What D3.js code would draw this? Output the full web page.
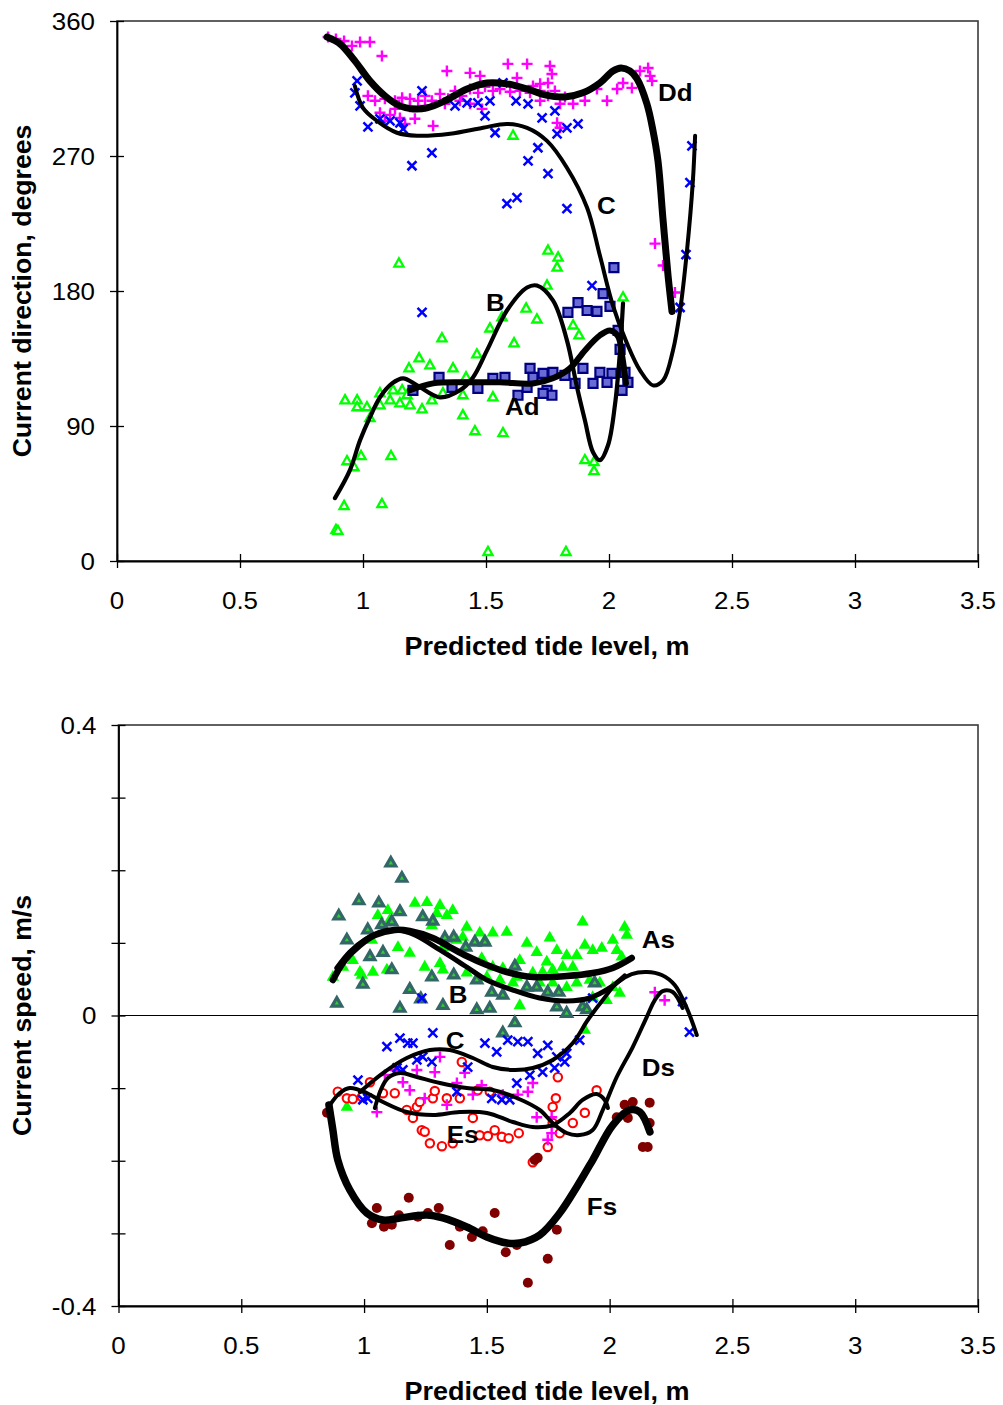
<!DOCTYPE html>
<html><head><meta charset="utf-8">
<script src="https://cdn.jsdelivr.net/npm/d3@7"></script>
<style>
body{margin:0;background:#fff}
svg text{font-family:"Liberation Sans",Arial,Helvetica,sans-serif;fill:#000}
</style>
</head><body>
<svg id="chart" width="1003" height="1405"></svg>
<script>
// ---------- tick labels ----------
const xTicks = [0, 0.5, 1, 1.5, 2, 2.5, 3, 3.5];
const xTickLabels = ["0", "0.5", "1", "1.5", "2", "2.5", "3", "3.5"];
const dirTicks = [0, 90, 180, 270, 360];
const dirTickLabels = ["0", "90", "180", "270", "360"];
const speedTicks = [-0.4, -0.3, -0.2, -0.1, 0, 0.1, 0.2, 0.3, 0.4];
const speedTickLabels = ["-0.4", "", "", "", "0", "", "", "", "0.4"];
const xTitle = "Predicted tide level, m";
const dirTitle = "Current direction, degrees";
const speedTitle = "Current speed, m/s";

// ---------- top chart: current direction (degrees) ----------
const dirDd = [[0.858,349.3],[0.890,348.0],[0.923,346.7],[0.955,343.4],[0.988,346.0],[1.028,346.0],[1.077,336.7],[1.341,326.7],[1.435,325.4],[1.476,323.4],[1.589,331.4],[1.667,331.4],[1.760,330.0],[1.768,324.7],[1.752,318.7],[1.720,318.1],[1.691,316.7],[1.626,322.1],[2.126,326.7],[2.159,328.7],[2.167,323.4],[2.175,320.1],[2.057,318.7],[2.093,315.4],[2.033,314.7],[1.992,306.8],[1.951,314.7],[1.854,304.8],[1.801,304.8],[1.789,292.1],[1.801,288.8],[1.285,290.1],[1.211,294.8],[1.150,295.4],[1.110,297.4],[1.069,298.8],[1.020,310.1],[1.049,306.8],[1.089,308.1],[1.130,306.8],[1.159,308.8],[1.191,308.1],[1.224,306.8],[1.252,310.1],[1.280,306.8],[1.313,311.4],[1.346,308.1],[1.374,313.4],[1.402,310.1],[1.435,314.7],[1.468,312.1],[1.496,316.1],[1.528,313.4],[1.557,314.7],[1.598,312.8],[1.638,313.4],[1.679,312.1],[1.720,313.4],[1.752,310.1],[1.780,313.4],[1.821,309.4],[1.902,306.8],[1.130,301.4],[1.191,302.8],[1.252,303.4],[1.333,304.8],[1.394,306.8],[1.435,304.8],[1.484,301.4],[1.720,306.8],[2.187,211.6],[2.220,197.0],[2.268,179.0],[1.171,291.4],[1.089,293.4]];
const dirC = [[0.976,320.1],[0.967,312.1],[0.988,303.4],[1.020,289.4],[1.069,294.8],[1.110,293.4],[1.150,292.1],[1.163,288.1],[1.240,313.4],[1.280,272.1],[1.199,263.5],[1.374,303.4],[1.423,305.4],[1.467,305.4],[1.516,306.8],[1.569,318.7],[1.496,296.8],[1.537,285.5],[1.622,306.8],[1.671,304.8],[1.728,295.4],[1.780,300.1],[1.829,288.8],[1.789,284.8],[1.874,291.4],[1.711,275.5],[1.671,266.8],[1.752,258.2],[1.585,238.2],[1.626,242.2],[1.829,234.9],[1.240,165.7],[1.931,183.6],[2.337,276.8],[2.329,252.2],[2.313,204.3],[2.289,169.0]];
const dirB = [[1.146,198.3],[1.752,206.9],[1.793,202.3],[1.789,195.6],[1.748,183.6],[1.663,168.3],[1.707,161.0],[1.565,162.4],[1.516,155.0],[1.614,145.1],[1.321,148.4],[1.463,137.7],[1.228,135.1],[1.187,128.4],[1.272,130.4],[1.366,128.4],[1.419,122.4],[1.854,157.0],[1.878,150.4],[2.057,175.7],[0.927,107.1],[0.976,107.1],[0.976,102.5],[1.016,102.5],[1.069,103.8],[1.028,95.2],[1.110,107.1],[1.150,105.1],[1.191,103.8],[1.240,101.1],[1.280,107.1],[1.325,111.8],[1.406,97.1],[1.455,86.5],[1.569,85.2],[1.528,109.1],[0.935,66.5],[0.963,62.5],[0.992,69.9],[1.114,69.9],[0.923,36.6],[1.077,37.9],[0.890,20.6],[0.898,20.0],[1.508,6.0],[1.825,6.0],[1.902,67.2],[1.939,65.9],[1.939,59.9],[1.069,111.8],[1.122,113.8],[1.159,113.8],[1.179,110.5],[1.406,110.5],[1.610,283.5]];
const dirAd = [[2.020,195.6],[1.976,178.3],[2.004,169.7],[1.874,172.3],[1.911,167.0],[1.951,166.4],[1.833,165.7],[2.037,153.7],[1.894,128.4],[1.963,125.8],[2.012,125.1],[1.992,119.1],[1.935,118.4],[1.862,118.4],[1.821,123.8],[1.772,125.8],[1.732,125.1],[1.679,128.4],[1.691,122.4],[1.748,113.8],[1.768,110.5],[1.732,111.8],[1.630,110.5],[1.667,115.8],[1.577,122.4],[1.528,121.8],[1.467,115.1],[1.362,115.8],[1.309,122.4],[1.203,113.8],[2.065,125.8],[2.077,119.1],[2.053,113.8],[2.045,141.1]];

// trend curves
const fitDd = [[0.854,349.3],[0.907,344.7],[0.967,333.4],[1.028,320.1],[1.089,310.1],[1.150,303.4],[1.203,301.4],[1.260,302.1],[1.333,306.8],[1.423,314.7],[1.504,318.7],[1.585,318.1],[1.667,314.7],[1.740,310.8],[1.821,309.4],[1.894,312.1],[1.963,318.7],[2.016,326.7],[2.049,328.7],[2.085,326.7],[2.114,321.4],[2.154,304.8],[2.179,286.8],[2.199,266.8],[2.220,226.9],[2.240,190.3],[2.256,166.4]];
const fitC = [[0.967,316.7],[1.000,302.1],[1.057,293.4],[1.138,285.5],[1.220,283.5],[1.354,284.8],[1.488,288.8],[1.585,291.4],[1.667,288.8],[1.748,280.1],[1.829,262.2],[1.911,235.5],[1.963,203.6],[2.016,170.3],[2.073,145.1],[2.126,127.1],[2.179,117.1],[2.220,120.4],[2.260,140.4],[2.289,167.0],[2.317,206.9],[2.341,253.5],[2.350,283.5]];
const fitB = [[0.886,41.9],[0.947,60.6],[0.988,80.5],[1.028,95.8],[1.069,109.1],[1.118,118.4],[1.163,121.8],[1.220,117.1],[1.313,109.1],[1.394,113.8],[1.447,122.4],[1.504,140.4],[1.585,167.0],[1.667,182.3],[1.707,183.6],[1.772,173.7],[1.829,147.1],[1.870,115.8],[1.902,93.8],[1.935,72.5],[1.963,67.2],[1.996,77.2],[2.024,103.8],[2.045,140.4],[2.057,171.7]];
const fitAd = [[1.191,113.8],[1.285,118.4],[1.423,119.1],[1.557,119.1],[1.691,118.4],[1.772,121.8],[1.841,128.4],[1.902,140.4],[1.963,150.4],[2.004,153.7],[2.037,149.7],[2.053,137.1],[2.069,118.4]];

// ---------- bottom chart: current speed (m/s) ----------
const spdAs = [[1.207,0.155],[1.256,0.156],[1.309,0.152],[1.361,0.145],[1.097,0.145],[1.105,0.132],[1.056,0.138],[1.296,0.141],[1.337,0.138],[1.418,0.122],[1.471,0.114],[1.524,0.114],[1.581,0.115],[1.492,0.104],[1.402,0.108],[1.378,0.104],[1.321,0.094],[1.138,0.094],[1.186,0.086],[1.247,0.067],[1.309,0.072],[1.321,0.063],[1.093,0.063],[1.036,0.060],[0.991,0.056],[0.873,0.053],[0.954,0.076],[1.418,0.059],[1.479,0.079],[1.524,0.067],[1.565,0.065],[1.634,0.076],[1.663,0.100],[1.703,0.087],[1.756,0.107],[1.785,0.090],[1.825,0.083],[1.866,0.083],[1.899,0.097],[1.890,0.129],[1.931,0.090],[1.968,0.093],[2.013,0.104],[2.029,0.090],[2.061,0.122],[2.070,0.111],[2.049,0.081],[1.744,0.074],[1.768,0.063],[1.809,0.067],[1.850,0.067],[1.727,0.060],[1.687,0.059],[1.622,0.053],[1.606,0.045],[1.663,0.039],[1.715,0.045],[1.768,0.045],[1.825,0.039],[1.866,0.045],[1.919,0.049],[1.960,0.045],[2.013,0.039],[2.041,0.031],[1.988,0.021],[1.634,0.014],[1.931,0.025],[1.553,0.049],[1.500,0.053],[0.983,0.060],[0.914,0.067],[0.930,-0.126],[1.899,-0.020],[1.276,0.124],[1.032,0.104]];
const spdB = [[1.109,0.210],[1.154,0.189],[0.979,0.158],[1.060,0.155],[0.897,0.137],[1.113,0.129],[1.146,0.143],[1.239,0.136],[1.280,0.130],[1.072,0.125],[1.015,0.118],[0.930,0.104],[1.077,0.087],[1.024,0.081],[1.113,0.063],[0.995,0.043],[1.186,0.036],[1.231,0.023],[0.889,0.017],[1.146,0.010],[1.321,0.014],[1.329,0.107],[1.365,0.108],[1.414,0.094],[1.451,0.101],[1.492,0.101],[1.276,0.053],[1.365,0.056],[1.459,0.049],[1.520,0.032],[1.565,0.028],[1.459,0.008],[1.512,0.010],[1.614,0.068],[1.663,0.039],[1.703,0.039],[1.748,0.032],[1.793,0.032],[1.785,0.012],[1.825,0.003],[1.890,0.012],[1.939,0.045],[1.614,-0.010],[1.565,-0.024],[1.907,0.008]];
const spdC = [[1.093,-0.043],[1.146,-0.031],[1.178,-0.038],[1.199,-0.038],[1.280,-0.024],[1.215,-0.061],[1.239,-0.057],[1.276,-0.064],[1.158,-0.075],[1.134,-0.072],[0.975,-0.089],[1.492,-0.038],[1.540,-0.050],[1.585,-0.034],[1.626,-0.036],[1.667,-0.036],[1.707,-0.052],[1.748,-0.041],[1.785,-0.057],[1.825,-0.052],[1.878,-0.034],[1.817,-0.064],[1.776,-0.072],[1.727,-0.078],[1.675,-0.082],[1.622,-0.093],[1.422,-0.071],[1.378,-0.105],[1.520,-0.114],[1.561,-0.116],[1.593,-0.116],[1.015,-0.114],[0.995,-0.116],[2.325,-0.023],[1.931,0.024],[2.297,0.019],[1.235,0.024]];
const spdDs = [[1.309,-0.057],[1.215,-0.075],[1.288,-0.078],[1.158,-0.092],[1.186,-0.103],[1.085,-0.082],[1.125,-0.075],[1.052,-0.133],[1.247,-0.114],[1.337,-0.123],[1.378,-0.093],[1.410,-0.079],[1.443,-0.109],[1.479,-0.096],[1.565,-0.109],[1.626,-0.109],[1.667,-0.105],[1.687,-0.093],[1.703,-0.140],[1.764,-0.140],[1.764,-0.162],[1.748,-0.171],[2.184,0.032],[2.224,0.021]];
const spdEs = [[0.893,-0.105],[0.930,-0.114],[0.954,-0.115],[0.991,-0.112],[1.024,-0.092],[1.077,-0.107],[1.125,-0.107],[1.174,-0.130],[1.199,-0.141],[1.215,-0.126],[1.227,-0.119],[1.280,-0.114],[1.288,-0.104],[1.337,-0.114],[1.390,-0.114],[1.398,-0.064],[1.443,-0.141],[1.235,-0.158],[1.247,-0.160],[1.268,-0.176],[1.317,-0.180],[1.361,-0.176],[1.471,-0.165],[1.504,-0.166],[1.532,-0.158],[1.561,-0.167],[1.589,-0.169],[1.630,-0.162],[1.748,-0.181],[1.687,-0.202],[1.768,-0.148],[1.781,-0.114],[1.789,-0.085],[1.768,-0.126],[1.850,-0.148],[1.899,-0.134],[1.797,-0.162],[1.947,-0.103],[1.463,-0.103],[1.512,-0.105]];
const spdFs = [[1.052,-0.265],[1.032,-0.286],[1.081,-0.291],[1.113,-0.288],[1.142,-0.275],[1.182,-0.251],[1.219,-0.277],[1.260,-0.272],[1.304,-0.265],[1.349,-0.316],[1.390,-0.291],[1.439,-0.305],[1.483,-0.297],[1.532,-0.272],[1.577,-0.326],[1.622,-0.316],[1.667,-0.368],[1.748,-0.335],[1.785,-0.295],[1.695,-0.199],[1.707,-0.196],[2.061,-0.123],[2.094,-0.119],[2.163,-0.120],[2.135,-0.181],[2.155,-0.181],[2.074,-0.141],[2.029,-0.140],[2.163,-0.148],[0.849,-0.134]];

const fitAs = [[0.873,0.0489],[0.922,0.0764],[0.983,0.0971],[1.044,0.1108],[1.125,0.1177],[1.186,0.1163],[1.280,0.1067],[1.349,0.0943],[1.418,0.0819],[1.500,0.0695],[1.581,0.0599],[1.687,0.0530],[1.825,0.0544],[1.931,0.0585],[2.013,0.0654],[2.090,0.0792]];
const fitSB = [[0.889,0.0654],[0.942,0.0874],[1.003,0.1040],[1.064,0.1136],[1.138,0.1177],[1.207,0.1108],[1.309,0.0902],[1.418,0.0668],[1.500,0.0489],[1.606,0.0351],[1.715,0.0241],[1.825,0.0200],[1.919,0.0241],[2.000,0.0379],[2.061,0.0544]];
const fitSC = [[0.983,-0.1053],[1.077,-0.0792],[1.174,-0.0585],[1.268,-0.0475],[1.349,-0.0475],[1.443,-0.0585],[1.524,-0.0709],[1.606,-0.0750],[1.687,-0.0723],[1.768,-0.0613],[1.850,-0.0379],[1.911,-0.0062],[1.972,0.0213],[2.029,0.0448],[2.090,0.0571],[2.151,0.0599],[2.212,0.0558],[2.265,0.0420],[2.314,0.0103],[2.355,-0.0269]];
const fitDs = [[1.044,-0.1274],[1.068,-0.1026],[1.097,-0.0861],[1.146,-0.0792],[1.215,-0.0847],[1.309,-0.0929],[1.418,-0.0998],[1.524,-0.1026],[1.622,-0.1136],[1.715,-0.1301],[1.768,-0.1480],[1.825,-0.1618],[1.878,-0.1646],[1.931,-0.1577],[1.972,-0.1301],[2.029,-0.0847],[2.094,-0.0434],[2.151,-0.0021],[2.184,0.0213],[2.216,0.0337],[2.257,0.0324],[2.297,0.0103]];
const fitEs = [[0.861,-0.1232],[0.901,-0.1067],[0.942,-0.0998],[1.011,-0.1067],[1.077,-0.1191],[1.174,-0.1329],[1.280,-0.1370],[1.390,-0.1329],[1.500,-0.1342],[1.606,-0.1466],[1.687,-0.1535],[1.768,-0.1508],[1.838,-0.1342],[1.890,-0.1163],[1.947,-0.1081],[1.980,-0.1163],[1.993,-0.1274]];
const fitFs = [[0.857,-0.1232],[0.873,-0.1577],[0.893,-0.1990],[0.942,-0.2403],[1.011,-0.2719],[1.077,-0.2816],[1.146,-0.2788],[1.256,-0.2747],[1.321,-0.2788],[1.418,-0.2912],[1.500,-0.3050],[1.581,-0.3133],[1.634,-0.3133],[1.715,-0.3023],[1.797,-0.2719],[1.866,-0.2361],[1.931,-0.1990],[2.013,-0.1508],[2.082,-0.1301],[2.123,-0.1329],[2.164,-0.1604]];

// curve labels (text + anchor in data units)
const dirLabels = [["Dd",2.199,306.8],["C",1.951,231.6],["B",1.500,167.0],["Ad",1.577,97.2]];
const spdLabels = [["As",2.131,0.093],["B",1.345,0.017],["C",1.333,-0.046],["Ds",2.131,-0.083],["Es",1.337,-0.176],["Fs",1.907,-0.275]];

// ---------- drawing ----------
const svg = d3.select("#chart");
const FONT_STRETCH = 1.08;

function txt(g, x, y, s, o) {
  o = o || {};
  const st = o.stretch || FONT_STRETCH;
  const t = g.append("text")
    .attr("transform", `translate(${x},${y})` + (o.rot ? ` rotate(${o.rot})` : "") + ` scale(${st},1)`)
    .attr("text-anchor", o.anchor || "start")
    .style("font-size", (o.size || 24) + "px")
    .style("font-weight", o.bold ? "bold" : "normal")
    .text(s);
  if (o.dy) t.attr("dy", o.dy);
  return t;
}

const markers = {
  plus: (g, c) => g.append("path").attr("d", "M-5.5,0H5.5M0,-5.5V5.5").attr("stroke", c).attr("stroke-width", 2.4).attr("fill", "none"),
  cross: (g, c) => g.append("path").attr("d", "M-4.5,-4.5L4.5,4.5M-4.5,4.5L4.5,-4.5").attr("stroke", c).attr("stroke-width", 2.5).attr("fill", "none"),
  triOpen: (g, c) => g.append("path").attr("d", "M0,-5.2L4.6,3L-4.6,3Z").attr("stroke", c).attr("stroke-width", 2.3).attr("fill", "#fff"),
  square: (g, c) => g.append("path").attr("d", "M-4.5,-4.5H4.5V4.5H-4.5Z").attr("stroke", "#000080").attr("stroke-width", 2.2).attr("fill", c),
  triFill: (g, c) => g.append("path").attr("d", "M0,-7L6.2,3.8L-6.2,3.8Z").attr("fill", c),
  triDark: (g, c) => g.append("path").attr("d", "M0,-5.5L4.9,3L-4.9,3Z").attr("stroke", "#336666").attr("stroke-width", 3.2).attr("stroke-linejoin", "miter").attr("fill", c),
  circOpen: (g, c) => g.append("circle").attr("r", 4.2).attr("stroke", c).attr("stroke-width", 2.1).attr("fill", "#fff"),
  circFill: (g, c) => g.append("circle").attr("r", 5).attr("fill", c)
};

function panel(cfg) {
  const g = svg.append("g");
  const x = d3.scaleLinear().domain([0, 3.5]).range([cfg.left, cfg.right]);
  const y = d3.scaleLinear().domain(cfg.yDomain).range([cfg.bottom, cfg.top]);

  // plot-area frame
  g.append("rect").attr("x", cfg.left).attr("y", cfg.top)
    .attr("width", cfg.right - cfg.left).attr("height", cfg.bottom - cfg.top)
    .attr("fill", "none").attr("stroke", "#3a3a3a").attr("stroke-width", 1.6);

  if (cfg.zeroLine) {
    g.append("line").attr("x1", cfg.left).attr("x2", cfg.right)
      .attr("y1", y(0)).attr("y2", y(0)).attr("stroke", "#000").attr("stroke-width", 1);
  }

  // axes
  const xa = g.append("g").attr("transform", `translate(0,${cfg.bottom})`)
    .call(d3.axisBottom(x).tickValues(xTicks).tickSize(7).tickSizeOuter(0).tickFormat(""));
  xa.select(".domain").attr("stroke", "#000").attr("stroke-width", 1.8);
  xa.selectAll(".tick line").attr("stroke", "#000").attr("stroke-width", 1.3).attr("y1", -7);
  const ya = g.append("g").attr("transform", `translate(${cfg.left},0)`)
    .call(d3.axisLeft(y).tickValues(cfg.yTicks).tickSize(7).tickSizeOuter(0).tickFormat(""));
  ya.select(".domain").attr("stroke", "#000").attr("stroke-width", 1.8);
  ya.selectAll(".tick line").attr("stroke", "#000").attr("stroke-width", 1.3).attr("x1", 7);

  xTicks.forEach((v, i) => txt(g, x(v), cfg.bottom + 48, xTickLabels[i], {anchor: "middle", size: 24}));
  cfg.yTicks.forEach((v, i) => { if (cfg.yTickLabels[i]) txt(g, cfg.left - 22, y(v), cfg.yTickLabels[i], {anchor: "end", size: 24, dy: "0.36em"}); });

  txt(g, 547, cfg.bottom + 94, xTitle, {anchor: "middle", size: 25, bold: true});
  txt(g, 31, (cfg.top + cfg.bottom) / 2, cfg.yTitle, {anchor: "middle", size: 25, bold: true, rot: -90, stretch: 1.065});

  // scatter
  cfg.series.forEach(s => {
    const sg = g.append("g");
    s.data.forEach(d => {
      const m = markers[s.marker](sg, s.color);
      m.attr("transform", `translate(${x(d[0])},${y(d[1])})`);
    });
  });

  // trend lines
  const line = d3.line().x(d => x(d[0])).y(d => y(d[1])).curve(d3.curveCatmullRom.alpha(0.5));
  cfg.fits.forEach(f => {
    g.append("path").datum(f.data).attr("d", line)
      .attr("fill", "none").attr("stroke", "#000").attr("stroke-width", f.w)
      .attr("stroke-linecap", "round").attr("stroke-linejoin", "round");
  });

  cfg.labels.forEach(l => txt(g, x(l[1]), y(l[2]), l[0], {size: 24, bold: true}));
}

panel({
  left: 117, right: 978, top: 21, bottom: 561,
  yDomain: [0, 360], yTicks: dirTicks, yTickLabels: dirTickLabels, yTitle: dirTitle,
  series: [
    {data: dirB, marker: "triOpen", color: "#00ff00"},
    {data: dirAd, marker: "square", color: "#6b6bd6"},
    {data: dirDd, marker: "plus", color: "#ff00ff"},
    {data: dirC, marker: "cross", color: "#0000ff"}
  ],
  fits: [
    {data: fitB, w: 4.2}, {data: fitAd, w: 6}, {data: fitC, w: 4}, {data: fitDd, w: 7}
  ],
  labels: dirLabels
});

panel({
  left: 118.5, right: 978, top: 725, bottom: 1306, zeroLine: true,
  yDomain: [-0.4, 0.4], yTicks: speedTicks, yTickLabels: speedTickLabels, yTitle: speedTitle,
  series: [
    {data: spdAs, marker: "triFill", color: "#00ff00"},
    {data: spdB, marker: "triDark", color: "#33cc33"},
    {data: spdEs, marker: "circOpen", color: "#ff0000"},
    {data: spdFs, marker: "circFill", color: "#800000"},
    {data: spdDs, marker: "plus", color: "#ff00ff"},
    {data: spdC, marker: "cross", color: "#0000ff"}
  ],
  fits: [
    {data: fitSB, w: 5}, {data: fitAs, w: 6.5}, {data: fitSC, w: 4}, {data: fitDs, w: 4}, {data: fitEs, w: 4}, {data: fitFs, w: 7.5}
  ],
  labels: spdLabels
});
</script>
</body></html>
